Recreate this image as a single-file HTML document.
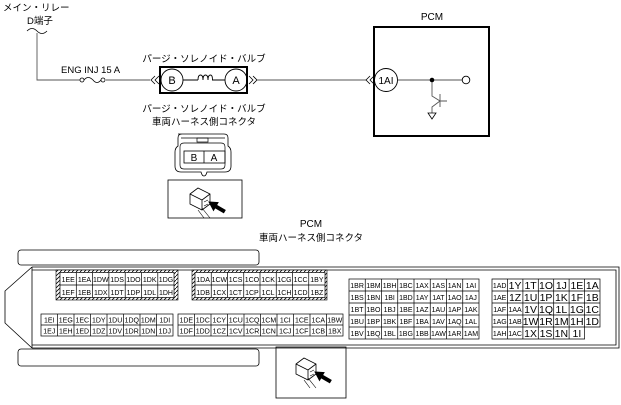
<!DOCTYPE html>
<html><head><meta charset="utf-8"><style>
html,body{margin:0;padding:0;background:#fff;}
svg{display:block;}
text{font-family:"Liberation Sans","Noto Sans CJK JP",sans-serif;fill:#000;}
.s{font-size:7px;text-anchor:middle;}
.b{font-size:12px;text-anchor:middle;}
.f{font-size:10.5px;text-anchor:middle;}
.j{font-size:9.5px;}
</style></head><body>
<svg width="621" height="405" viewBox="0 0 621 405" xmlns="http://www.w3.org/2000/svg">
<defs>
<pattern id="h" width="4" height="4" patternUnits="userSpaceOnUse"><rect width="4" height="4" fill="#fff"/><path d="M0,4 L4,0" stroke="#000" stroke-width="0.8"/></pattern>
<g id="icon">
<path d="M12,14 l8,-6 l12,6 l0,10 l-8,6 l-12,-6 z M12,14 l12,6 l8,-6 M24,20 l0,10" fill="#fff" stroke="#000" stroke-width="0.8"/>
<path d="M26,22 l4,-2 M26,26 l4,-2 M20,30 l6,8 M24,28 l8,10" stroke="#000" stroke-width="0.6" fill="none"/>
<path d="M30,26 l8,-4 l0,3 l10,0 l0,3 l-10,0 l0,3 z" fill="#000" transform="rotate(30 38 26)"/>
</g>
</defs>
<g fill="none" stroke="#000">
<text class="j" x="3" y="11" stroke="none">メイン・リレー</text>
<text class="j" x="27" y="24" stroke="none">D端子</text>
<path d="M27,31 q5,-5 10,0 q5,5 10,0" stroke-width="0.8"/>
<path d="M37,33 V80 H80 M106,80 H150" stroke="#555" stroke-width="0.9"/>
<text x="61" y="73" stroke="none" style="font-size:9.5px">ENG INJ 15 A</text>
<circle cx="82" cy="80" r="2" stroke-width="0.8"/><circle cx="103" cy="80" r="2" stroke-width="0.8"/>
<path d="M84,80 q4,-5 9,0 q4,5 8,0" stroke-width="0.8"/>
<path d="M155,76 l-4,4 l4,4 M159,76 l-4,4 l4,4" stroke-width="0.8"/>
<text class="j" x="204" y="62" text-anchor="middle" stroke="none">パージ・ソレノイド・バルブ</text>
<rect x="160" y="67" width="87" height="26" stroke-width="2"/>
<circle cx="172" cy="80" r="11" stroke-width="0.9"/><text x="172" y="84" class="b" style="font-size:11px" stroke="none">B</text>
<circle cx="236" cy="80" r="11" stroke-width="0.9"/><text x="236" y="84" class="b" style="font-size:11px" stroke="none">A</text>
<path d="M183,80 H198 M212,80 H225" stroke-width="0.9"/>
<path d="M198,80 q0,-5 2.5,-5 q2.5,0 2.5,5 q0,-5 2.5,-5 q2.5,0 2.5,5 q0,-5 2.5,-5 q2,0 2,5" stroke-width="0.9"/>
<path d="M249,76 l4,4 l-4,4 M253,76 l4,4 l-4,4" stroke-width="0.8"/>
<path d="M257,80 H366" stroke="#555" stroke-width="0.9"/>
<path d="M370,76 l-4,4 l4,4 M374,76 l-4,4 l4,4" stroke-width="0.8"/>
<text class="j" x="204" y="112" text-anchor="middle" stroke="none">パージ・ソレノイド・バルブ</text>
<text class="j" x="204" y="125" text-anchor="middle" stroke="none">車両ハーネス側コネクタ</text>
<path d="M178,134 H224 q4,0 4,4 V146 q3,2 3,6 V166 q0,6 -6,6 H207 q-1,4 -3,4 q-2,0 -3,-4 H181 q-6,0 -6,-6 V152 q0,-4 3,-6 V138 q0,-4 4,-4 z" stroke-width="0.8"/>
<path d="M181,138 H225 M180,147 q0,-4 4,-4 H221 q4,0 4,4 V165 q0,4 -4,4 H184 q-4,0 -4,-4 z" stroke-width="0.7"/>
<rect x="197" y="138" width="11" height="4" stroke-width="0.7"/>
<rect x="184" y="151" width="41" height="12" stroke-width="0.8"/>
<path d="M204,151 V163" stroke-width="0.8"/>
<text x="194" y="161" class="b" style="font-size:10px" stroke="none">B</text>
<text x="214" y="161" class="b" style="font-size:10px" stroke="none">A</text>
<rect x="168" y="180" width="74" height="38" stroke-width="0.8"/>
<use href="#icon" x="178" y="180"/>
<text x="432" y="20" class="b" style="font-size:10px" stroke="none">PCM</text>
<rect x="374" y="27" width="115" height="109" stroke-width="2"/>
<circle cx="386" cy="80" r="11.5" fill="#fff" stroke-width="0.9"/>
<text x="386" y="84" class="b" style="font-size:10px" stroke="none">1AI</text>
<path d="M398,80 H462 M432,80 V96 L440,101 M440,94 V107 M440,101 H447 M440,101 L432,107 V113" stroke="#555" stroke-width="0.9"/>
<circle cx="432" cy="80" r="2.3" fill="#000" stroke="none"/>
<circle cx="466" cy="80" r="3.8" stroke-width="0.9"/>
<path d="M428,113 H436 L432,119 Z" stroke-width="0.8"/>
<text x="311" y="227" class="b" style="font-size:10px" stroke="none">PCM</text>
<text x="311" y="241" class="j" text-anchor="middle" stroke="none">車両ハーネス側コネクタ</text>
<rect x="18" y="250" width="241" height="15" rx="3" stroke-width="0.8"/>
<rect x="18" y="349" width="241" height="17" rx="3" stroke-width="0.8"/>
<path d="M32,267 H619 V348 H32 M32,270 H616 V345 H32" stroke-width="0.8"/>
<path d="M32,267 V348 M32,267 L5,291 V323 L32,348" stroke-width="0.8"/>
<rect x="276" y="347" width="70" height="51" stroke-width="0.8"/>
<use href="#icon" x="284" y="350"/>
<rect x="56" y="270" width="122" height="30" fill="url(#h)" stroke-width="0.6"/>
<rect x="60" y="272.5" width="114" height="25" fill="#fff" stroke-width="0.7"/>
<path d="M60,285 H174 M76.3,272.5V297.5 M92.6,272.5V297.5 M108.9,272.5V297.5 M125.2,272.5V297.5 M141.5,272.5V297.5 M157.8,272.5V297.5" stroke-width="0.7"/>
<rect x="192" y="270" width="135" height="30" fill="url(#h)" stroke-width="0.6"/>
<rect x="195" y="272.5" width="130" height="25" fill="#fff" stroke-width="0.7"/>
<path d="M195,285 H325 M211.25,272.5V297.5 M227.5,272.5V297.5 M243.75,272.5V297.5 M260,272.5V297.5 M276.25,272.5V297.5 M292.5,272.5V297.5 M308.75,272.5V297.5" stroke-width="0.7"/>
<rect x="41" y="314" width="132" height="22" stroke-width="0.7"/>
<path d="M41,325 H173 M57.5,314V336 M74,314V336 M90.5,314V336 M107,314V336 M123.5,314V336 M140,314V336 M156.5,314V336" stroke-width="0.7"/>
<rect x="178" y="314" width="165" height="22" stroke-width="0.7"/>
<path d="M178,325 H343 M194.5,314V336 M211,314V336 M227.5,314V336 M244,314V336 M260.5,314V336 M277,314V336 M293.5,314V336 M310,314V336 M326.5,314V336" stroke-width="0.7"/>
<rect x="349" y="279" width="130" height="60" stroke-width="0.7"/>
<path d="M349,291H479 M349,303H479 M349,315H479 M349,327H479 M365.25,279V339 M381.5,279V339 M397.75,279V339 M414,279V339 M430.25,279V339 M446.5,279V339 M462.75,279V339" stroke-width="0.7"/>
<path d="M492,279 H600 V327 H584.6 V339 H492 Z M492,291H600 M492,303H600 M492,315H600 M492,327H584.6 M507.4,279V339 M522.9,279V339 M538.3,279V339 M553.7,279V339 M569.1,279V339 M584.6,279V327" stroke-width="0.7"/>
</g>
<g class="s">
<text x="68.2" y="282">1EE</text><text x="84.5" y="282">1EA</text><text x="100.8" y="282">1DW</text><text x="117.1" y="282">1DS</text><text x="133.4" y="282">1DO</text><text x="149.7" y="282">1DK</text><text x="166" y="282">1DG</text>
<text x="68.2" y="295">1EF</text><text x="84.5" y="295">1EB</text><text x="100.8" y="295">1DX</text><text x="117.1" y="295">1DT</text><text x="133.4" y="295">1DP</text><text x="149.7" y="295">1DL</text><text x="166" y="295">1DH</text>
<text x="203.1" y="282">1DA</text><text x="219.4" y="282">1CW</text><text x="235.6" y="282">1CS</text><text x="251.9" y="282">1CO</text><text x="268.1" y="282">1CK</text><text x="284.4" y="282">1CG</text><text x="300.6" y="282">1CC</text><text x="316.9" y="282">1BY</text>
<text x="203.1" y="295">1DB</text><text x="219.4" y="295">1CX</text><text x="235.6" y="295">1CT</text><text x="251.9" y="295">1CP</text><text x="268.1" y="295">1CL</text><text x="284.4" y="295">1CH</text><text x="300.6" y="295">1CD</text><text x="316.9" y="295">1BZ</text>
<text x="49.3" y="322.5">1EI</text><text x="65.8" y="322.5">1EG</text><text x="82.3" y="322.5">1EC</text><text x="98.8" y="322.5">1DY</text><text x="115.3" y="322.5">1DU</text><text x="131.8" y="322.5">1DQ</text><text x="148.3" y="322.5">1DM</text><text x="164.8" y="322.5">1DI</text>
<text x="49.3" y="333.5">1EJ</text><text x="65.8" y="333.5">1EH</text><text x="82.3" y="333.5">1ED</text><text x="98.8" y="333.5">1DZ</text><text x="115.3" y="333.5">1DV</text><text x="131.8" y="333.5">1DR</text><text x="148.3" y="333.5">1DN</text><text x="164.8" y="333.5">1DJ</text>
<text x="186.3" y="322.5">1DE</text><text x="202.8" y="322.5">1DC</text><text x="219.3" y="322.5">1CY</text><text x="235.8" y="322.5">1CU</text><text x="252.3" y="322.5">1CQ</text><text x="268.8" y="322.5">1CM</text><text x="285.3" y="322.5">1CI</text><text x="301.8" y="322.5">1CE</text><text x="318.3" y="322.5">1CA</text><text x="334.8" y="322.5">1BW</text>
<text x="186.3" y="333.5">1DF</text><text x="202.8" y="333.5">1DD</text><text x="219.3" y="333.5">1CZ</text><text x="235.8" y="333.5">1CV</text><text x="252.3" y="333.5">1CR</text><text x="268.8" y="333.5">1CN</text><text x="285.3" y="333.5">1CJ</text><text x="301.8" y="333.5">1CF</text><text x="318.3" y="333.5">1CB</text><text x="334.8" y="333.5">1BX</text>
<text x="357.1" y="288">1BR</text><text x="373.4" y="288">1BM</text><text x="389.6" y="288">1BH</text><text x="405.9" y="288">1BC</text><text x="422.1" y="288">1AX</text><text x="438.4" y="288">1AS</text><text x="454.6" y="288">1AN</text><text x="470.9" y="288">1AI</text>
<text x="357.1" y="300">1BS</text><text x="373.4" y="300">1BN</text><text x="389.6" y="300">1BI</text><text x="405.9" y="300">1BD</text><text x="422.1" y="300">1AY</text><text x="438.4" y="300">1AT</text><text x="454.6" y="300">1AO</text><text x="470.9" y="300">1AJ</text>
<text x="357.1" y="312">1BT</text><text x="373.4" y="312">1BO</text><text x="389.6" y="312">1BJ</text><text x="405.9" y="312">1BE</text><text x="422.1" y="312">1AZ</text><text x="438.4" y="312">1AU</text><text x="454.6" y="312">1AP</text><text x="470.9" y="312">1AK</text>
<text x="357.1" y="324">1BU</text><text x="373.4" y="324">1BP</text><text x="389.6" y="324">1BK</text><text x="405.9" y="324">1BF</text><text x="422.1" y="324">1BA</text><text x="438.4" y="324">1AV</text><text x="454.6" y="324">1AQ</text><text x="470.9" y="324">1AL</text>
<text x="357.1" y="336">1BV</text><text x="373.4" y="336">1BQ</text><text x="389.6" y="336">1BL</text><text x="405.9" y="336">1BG</text><text x="422.1" y="336">1BB</text><text x="438.4" y="336">1AW</text><text x="454.6" y="336">1AR</text><text x="470.9" y="336">1AM</text>
<text x="499.7" y="288">1AD</text><text x="499.7" y="300">1AE</text><text x="499.7" y="312">1AF</text><text x="515.1" y="312">1AA</text><text x="499.7" y="324">1AG</text><text x="515.1" y="324">1AB</text><text x="499.7" y="336">1AH</text><text x="515.1" y="336">1AC</text>
</g>
<g class="f">
<text x="515.1" y="289">1Y</text><text x="530.6" y="289">1T</text><text x="546" y="289">1O</text><text x="561.4" y="289">1J</text><text x="576.9" y="289">1E</text><text x="592.3" y="289">1A</text>
<text x="515.1" y="301">1Z</text><text x="530.6" y="301">1U</text><text x="546" y="301">1P</text><text x="561.4" y="301">1K</text><text x="576.9" y="301">1F</text><text x="592.3" y="301">1B</text>
<text x="530.6" y="313">1V</text><text x="546" y="313">1Q</text><text x="561.4" y="313">1L</text><text x="576.9" y="313">1G</text><text x="592.3" y="313">1C</text>
<text x="530.6" y="325">1W</text><text x="546" y="325">1R</text><text x="561.4" y="325">1M</text><text x="576.9" y="325">1H</text><text x="592.3" y="325">1D</text>
<text x="530.6" y="337">1X</text><text x="546" y="337">1S</text><text x="561.4" y="337">1N</text><text x="576.9" y="337">1I</text>
</g>
</svg>
</body></html>
